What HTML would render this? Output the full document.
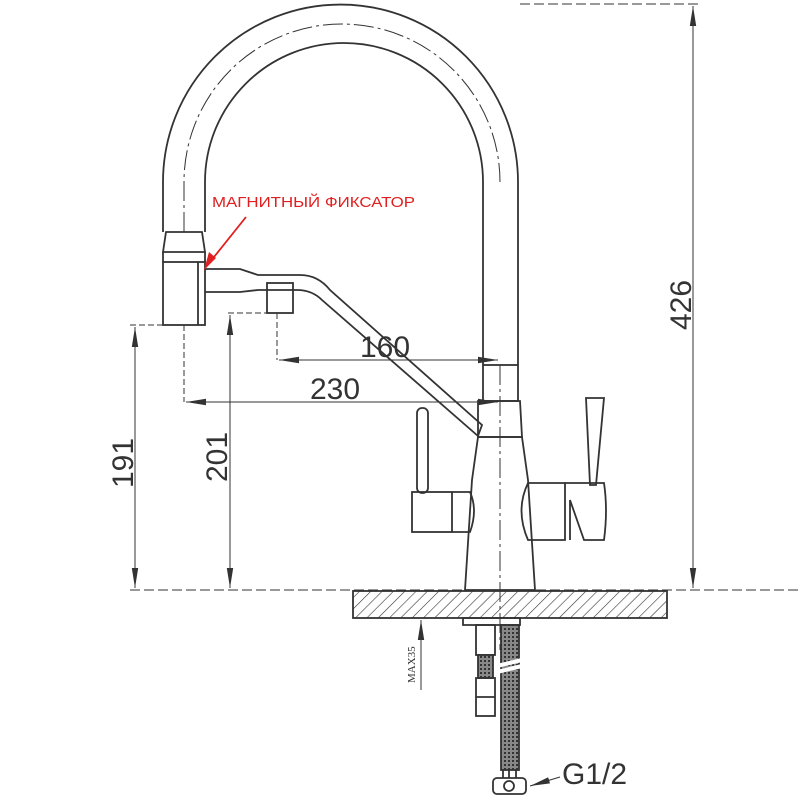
<!DOCTYPE html>
<html><head><meta charset="utf-8"><style>html,body{margin:0;padding:0;background:#fff}svg{display:block}</style></head>
<body>
<svg width="800" height="800" viewBox="0 0 800 800" xmlns="http://www.w3.org/2000/svg" font-family="Liberation Sans, sans-serif">
<defs>
<pattern id="h" width="8" height="8" patternUnits="userSpaceOnUse" patternTransform="rotate(45)"><line x1="0" y1="0" x2="0" y2="8" stroke="#333" stroke-width="1.2"/></pattern>
<pattern id="m" width="4" height="4" patternUnits="userSpaceOnUse"><rect width="4" height="4" fill="#888"/><rect width="2" height="2" fill="#333"/></pattern>
<marker id="a" viewBox="0 0 10 10" preserveAspectRatio="none" refX="10" refY="5" markerWidth="20" markerHeight="8" orient="auto-start-reverse" markerUnits="userSpaceOnUse"><path d="M0,1 L10,5 L0,9z" fill="#333"/></marker>
</defs>
<g fill="none" stroke="#333" stroke-width="1.8">
<path d="M163,232 L163,182 A177.5,177.5 0 0 1 518,182 L518,365"/>
<path d="M205,232 L205,182 A139,139 0 0 1 483,182 L483,365"/>
<path d="M184,232 L184,182 A158,158 0 0 1 500,182" stroke-dasharray="20,4,3,4" stroke-width="1"/>
<path d="M166,232 L202,232 L205,252 L163,252 Z"/>
<rect x="163" y="262" width="42" height="63"/>
<line x1="163" y1="252" x2="163" y2="262"/><line x1="205" y1="252" x2="205" y2="262"/>
<line x1="198" y1="262" x2="198" y2="325"/>
<path d="M205,269 L240,269 L258,275 L300,275 Q318,275 330,290 L482,425 L478,436 L322,300 Q312,290 297,290 L258,290 L240,292 L205,292"/>
<rect x="267" y="283" width="26" height="30"/>
<rect x="483" y="365" width="35" height="36"/>
<path d="M478,401 L520,401 L522,437 L478,437 Z"/>
<path d="M478,437 L522,437 L528,480 L535,590 L465,590 L472,480 Z"/>
<line x1="500" y1="365" x2="500" y2="650" stroke-width="1" stroke-dasharray="20,4,3,4"/>
<rect x="417" y="408" width="11" height="85" rx="5"/>
<rect x="412" y="492" width="40" height="40"/>
<path d="M452,492 L470,492 Q478,510 470,532 L452,532"/>
<path d="M528,483 L565,483 L565,540 L528,540 Q515,510 528,483Z"/>
<path d="M565,483 L604,483 Q608,510 604,540 L584,540 L570,500 L570,540"/>
<path d="M586,398 L604,398 L596,485 L590,485 Z"/>
<rect x="353" y="591" width="314" height="27" fill="url(#h)"/>
<path d="M463,618 L520,618 L520,625 L463,625 Z"/>
<rect x="476" y="625" width="19" height="30"/>
<rect x="478" y="655" width="15" height="23" fill="url(#m)"/>
<rect x="476" y="678" width="19" height="38"/>
<line x1="476" y1="697" x2="495" y2="697"/>
<rect x="501" y="625" width="18" height="145" fill="url(#m)"/>
<path d="M497,666 L522,660 M497,672 L522,666" stroke="#fff" stroke-width="4"/>
<rect x="493" y="778" width="33" height="16" rx="4"/>
<circle cx="509" cy="786" r="5"/>
<line x1="503" y1="770" x2="503" y2="778"/><line x1="509" y1="770" x2="509" y2="778"/><line x1="516" y1="770" x2="516" y2="778"/>
</g>
<g stroke="#333" stroke-width="1" fill="none">
<line x1="130" y1="590" x2="800" y2="590" stroke-dasharray="10,4"/>
<line x1="520" y1="4" x2="700" y2="4" stroke-dasharray="10,4"/>
<line x1="693" y1="6" x2="693" y2="588" marker-start="url(#a)" marker-end="url(#a)"/>
<line x1="130" y1="325" x2="163" y2="325" stroke-dasharray="6,3"/>
<line x1="135" y1="327" x2="135" y2="588" marker-start="url(#a)" marker-end="url(#a)"/>
<line x1="228" y1="313" x2="267" y2="313" stroke-dasharray="6,3"/>
<line x1="230" y1="315" x2="230" y2="588" marker-start="url(#a)" marker-end="url(#a)"/>
<line x1="184" y1="325" x2="184" y2="402" stroke-dasharray="6,3"/>
<line x1="277" y1="313" x2="277" y2="360" stroke-dasharray="6,3"/>
<line x1="279" y1="360" x2="498" y2="360" marker-start="url(#a)" marker-end="url(#a)"/>
<line x1="186" y1="402" x2="498" y2="402" marker-start="url(#a)" marker-end="url(#a)"/>
<line x1="421" y1="690" x2="421" y2="620" marker-end="url(#a)"/>
<path d="M560,777 L530,786" marker-end="url(#a)"/>
</g>
<g fill="#333" font-size="30">
<text x="360" y="357">160</text>
<text x="310" y="399">230</text>
<text transform="translate(133,488) rotate(-90)">191</text>
<text transform="translate(227,482) rotate(-90)">201</text>
<text transform="translate(691,330) rotate(-90)">426</text>
<text x="562" y="784" font-size="30">G1/2</text>
<text transform="translate(415,683) rotate(-90)" font-size="11" font-family="Liberation Serif, serif">MAX35</text>
</g>
<text x="212" y="207" fill="#e02020" font-size="15" textLength="203" lengthAdjust="spacingAndGlyphs">МАГНИТНЫЙ ФИКСАТОР</text>
<line x1="246" y1="217" x2="206" y2="267" stroke="#e02020" stroke-width="1.8"/>
<path d="M204,270 L209,252 L216,258 Z" fill="#e02020"/>
</svg>
</body></html>
